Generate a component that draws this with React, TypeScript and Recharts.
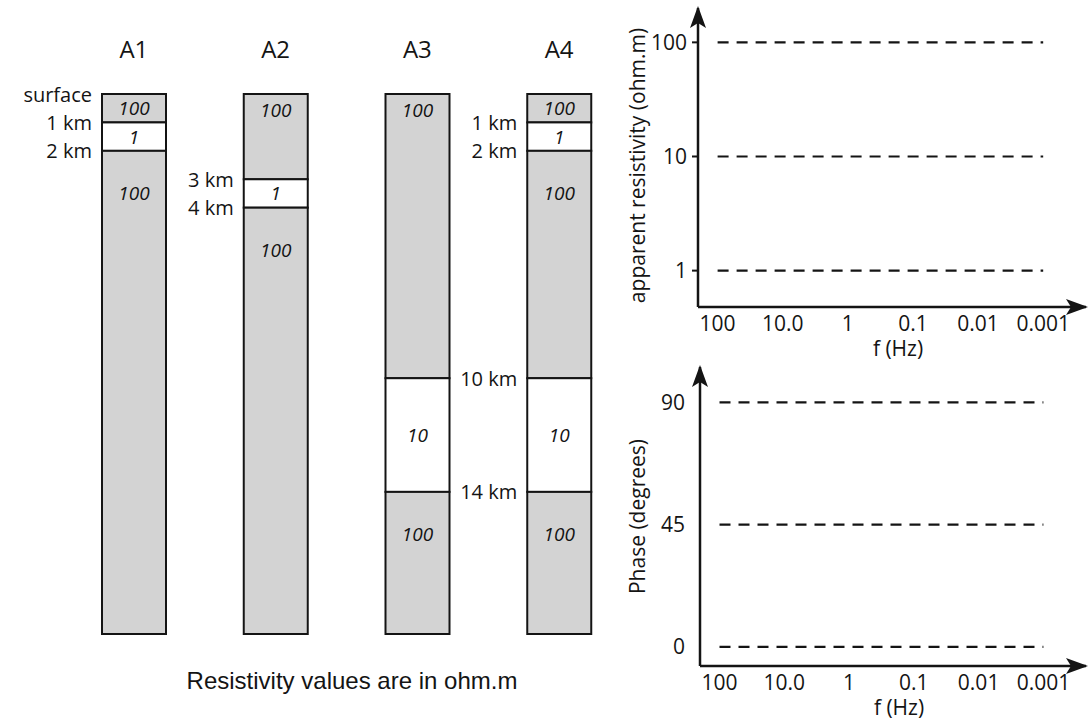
import { BarChart, Bar, XAxis, YAxis, LineChart, ReferenceLine, Label } from 'recharts'

// resistivity models (layered earth), depths in km, resistivities in ohm.m
const columns = ['A1', 'A2', 'A3', 'A4']
const interfaces = [[1, 2], [3, 4], [10, 14], [1, 2, 10, 14]]
const resistivity = [
  [100, 1, 100],
  [100, 1, 100],
  [100, 10, 100],
  [100, 1, 100, 10, 100],
]
const depthLabelled = [true, true, false, true]
const topLabels = ['surface', '', '', '']
const sectionBase = 19 // km, bottom of the drawn section (not labelled)

// empty sounding axes on the right
const freqTicks = [100, 10, 1, 0.1, 0.01, 0.001]
const freqLabels = ['100', '10.0', '1', '0.1', '0.01', '0.001']
const rhoTicks = [1, 10, 100]
const phaseTicks = [0, 45, 90]

const table = columns.map((name, c) => {
  const edges = [0, ...interfaces[c], sectionBase]
  const row: any = { name, labelled: depthLabelled[c], topLabel: topLabels[c] }
  resistivity[c].forEach((r, i) => {
    row[`t${i}`] = edges[i + 1] - edges[i]
    row[`r${i}`] = r
    row[`d${i}`] = edges[i]
  })
  return row
})
const maxLayers = Math.max(...resistivity.map((r) => r.length))

const ink = '#141414'
const font = '"Open Sans", "Noto Sans", sans-serif'

const layerShape = (layer: number) => (props: any) => {
  const { x, y, width, height, payload } = props
  if (payload == null || payload[`t${layer}`] == null || !height) return null
  const top = height < 0 ? y + height : y
  const h = Math.abs(height)
  const res = payload[`r${layer}`]
  const resistive = res >= 100
  let ly = top + h / 2
  if (resistive && h > 60) ly = top + (layer === 0 ? 16 : 42)
  let depthText = ''
  if (payload.labelled) {
    depthText = layer === 0 ? payload.topLabel : `${payload[`d${layer}`]} km`
  }
  return (
    <g>
      <rect x={x} y={top} width={width} height={h} fill={resistive ? '#d3d3d3' : '#ffffff'} stroke={ink} strokeWidth={2} />
      <text x={x + width / 2} y={ly} textAnchor="middle" dominantBaseline="central" fontStyle="italic" fontSize={19} fill={ink}>
        {res}
      </text>
      {depthText && (
        <text x={x - 10} y={top} textAnchor="end" dominantBaseline="central" fontSize={20} fill={ink}>
          {depthText}
        </text>
      )}
    </g>
  )
}

const yTitle = (text: string, dy: number) => (props: any) => {
  const vb = props.viewBox
  const cx = vb.x + 37
  const cy = vb.y + vb.height / 2 + dy
  return (
    <text x={cx} y={cy} transform={`rotate(-90 ${cx} ${cy})`} textAnchor="middle" dominantBaseline="central" fontSize={21} fill={ink}>
      {text}
    </text>
  )
}

const xTitle = (props: any) => {
  const vb = props.viewBox
  return (
    <text x={vb.x + vb.width / 2 + 6} y={vb.y + 41} textAnchor="middle" dominantBaseline="central" fontSize={21} fill={ink}>
      f (Hz)
    </text>
  )
}

const tickStyle = { fontSize: 21, fill: ink, fontFamily: font }
const axisLineX = { stroke: ink, strokeWidth: 2.5, markerEnd: 'url(#axisArrow)' }
const axisLineY = { stroke: ink, strokeWidth: 2.5, markerStart: 'url(#axisArrow)' }
const dashed = { stroke: ink, strokeWidth: 2.2, strokeDasharray: '11 8' }

export default function App() {
  const freqRows = freqTicks.map((f) => ({ f }))
  return (
    <div style={{ position: 'absolute', left: 0, top: 0, width: 1090, height: 723, background: '#fff', fontFamily: font }}>
      <svg width={0} height={0} style={{ position: 'absolute' }}>
        <defs>
          <marker id="axisArrow" viewBox="0 0 22 16" refX={20} refY={8} markerWidth={22} markerHeight={16} markerUnits="userSpaceOnUse" orient="auto-start-reverse">
            <path d="M0,0 L22,8 L0,16 L5,8 z" fill={ink} />
          </marker>
        </defs>
      </svg>

      <div style={{ position: 'absolute', left: 0, top: 0 }}>
        <BarChart width={640} height={723} data={table} margin={{ top: 34, right: 10, bottom: 89, left: 63 }}>
          <XAxis dataKey="name" orientation="top" height={60} axisLine={false} tickLine={false} tickSize={0} tickMargin={36} tick={{ fontSize: 24, fill: ink, fontFamily: font }} />
          <YAxis hide reversed type="number" domain={[0, sectionBase]} />
          {Array.from({ length: maxLayers }, (_, i) => (
            <Bar key={i} dataKey={`t${i}`} stackId="col" barSize={64} isAnimationActive={false} shape={layerShape(i)} />
          ))}
        </BarChart>
      </div>

      <div style={{ position: 'absolute', left: 0, top: 669, width: 704, textAlign: 'center', fontFamily: '"Liberation Sans", Arial, sans-serif', fontSize: 24, lineHeight: '24px', color: ink }}>
        Resistivity values are in ohm.m
      </div>

      <div style={{ position: 'absolute', left: 600, top: 0 }}>
        <LineChart width={490} height={372} data={freqRows} margin={{ top: 8, right: 4, bottom: 0, left: 0 }}>
          <XAxis dataKey="f" type="number" scale="log" domain={[0.00022, 200]} reversed allowDataOverflow ticks={freqTicks} tickFormatter={(v: number) => freqLabels[freqTicks.indexOf(v)] ?? String(v)} height={65} axisLine={axisLineX} tickLine={false} tickSize={0} tickMargin={9} tick={tickStyle} interval={0}>
            <Label content={xTitle} />
          </XAxis>
          <YAxis type="number" scale="log" domain={[0.48, 200]} allowDataOverflow ticks={rhoTicks} width={98} axisLine={axisLineY} tickLine={{ stroke: ink, strokeWidth: 2 }} tickSize={6} tickMargin={5} tick={tickStyle} interval={0}>
            <Label content={yTitle('apparent resistivity (ohm.m)', 8)} />
          </YAxis>
          {rhoTicks.map((v) => (
            <ReferenceLine key={v} segment={[{ x: freqTicks[0], y: v }, { x: freqTicks[freqTicks.length - 1], y: v }]} {...dashed} />
          ))}
        </LineChart>
      </div>

      <div style={{ position: 'absolute', left: 600, top: 360 }}>
        <LineChart width={490} height={363} data={freqRows} margin={{ top: 7, right: 4, bottom: 0, left: 0 }}>
          <XAxis dataKey="f" type="number" scale="log" domain={[0.00022, 200]} reversed allowDataOverflow ticks={freqTicks} tickFormatter={(v: number) => freqLabels[freqTicks.indexOf(v)] ?? String(v)} height={57} axisLine={axisLineX} tickLine={false} tickSize={0} tickMargin={9} tick={tickStyle} interval={0}>
            <Label content={xTitle} />
          </XAxis>
          <YAxis type="number" domain={[-7, 103]} allowDataOverflow ticks={phaseTicks} width={100} axisLine={axisLineY} tickLine={false} tickSize={0} tickMargin={15} tick={tickStyle} interval={0}>
            <Label content={yTitle('Phase (degrees)', 0)} />
          </YAxis>
          {phaseTicks.map((v) => (
            <ReferenceLine key={v} segment={[{ x: freqTicks[0], y: v }, { x: freqTicks[freqTicks.length - 1], y: v }]} {...dashed} />
          ))}
        </LineChart>
      </div>
    </div>
  )
}
